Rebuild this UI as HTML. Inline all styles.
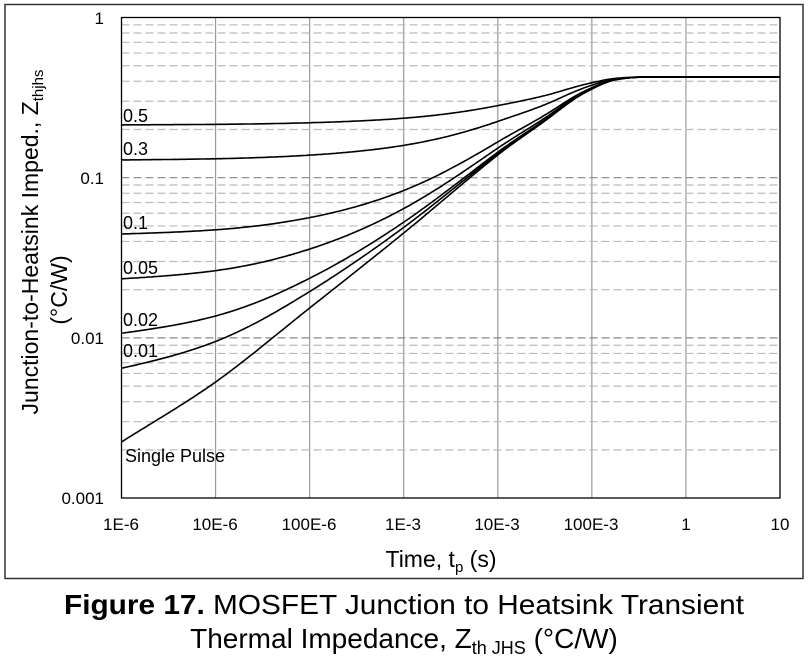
<!DOCTYPE html>
<html><head><meta charset="utf-8"><style>
body{margin:0;background:#fff;width:809px;height:668px;overflow:hidden}
svg{display:block}
text{font-family:"Liberation Sans",sans-serif;fill:#000}
</style></head><body>
<svg id="s" width="809" height="668" xmlns="http://www.w3.org/2000/svg">
<rect x="5" y="4.5" width="798" height="574" fill="none" stroke="#333" stroke-width="1.5"/>
<g id="grid"></g>
<rect x="121.5" y="17.5" width="658.5" height="480.5" fill="none" stroke="#000" stroke-width="1.3"/>
<g id="curves" fill="none" stroke="#000" stroke-width="1.6"></g>
<g font-size="17" text-anchor="end">
<text x="104" y="24">1</text>
<text x="104" y="184">0.1</text>
<text x="104" y="344">0.01</text>
<text x="104" y="504">0.001</text>
</g>
<g font-size="17" text-anchor="middle">
<text x="121" y="530">1E-6</text>
<text x="215" y="530">10E-6</text>
<text x="309" y="530">100E-6</text>
<text x="403" y="530">1E-3</text>
<text x="497" y="530">10E-3</text>
<text x="591" y="530">100E-3</text>
<text x="686" y="530">1</text>
<text x="780" y="530">10</text>
</g>
<text x="441" y="567" font-size="23" text-anchor="middle">Time, t<tspan font-size="15" dy="5">p</tspan><tspan dy="-5"> (s)</tspan></text>
<g transform="translate(38,242) rotate(-90)"><text x="0" y="0" font-size="23" text-anchor="middle">Junction-to-Heatsink Imped., Z<tspan font-size="15" dy="5">thjhs</tspan></text></g>
<g transform="translate(67,290) rotate(-90)"><text x="0" y="0" font-size="23" text-anchor="middle">(°C/W)</text></g>
<g font-size="18">
<text x="123" y="122">0.5</text>
<text x="123" y="155">0.3</text>
<text x="123" y="229">0.1</text>
<text x="123" y="274">0.05</text>
<text x="123" y="326">0.02</text>
<text x="123" y="357">0.01</text>
<text x="125" y="462">Single Pulse</text>
</g>
<text x="404" y="614" font-size="28" text-anchor="middle" textLength="680" lengthAdjust="spacingAndGlyphs"><tspan font-weight="bold">Figure 17.</tspan> MOSFET Junction to Heatsink Transient</text>
<text x="404" y="648" font-size="28" text-anchor="middle"><tspan>Thermal Impedance, Z</tspan><tspan font-size="18" dy="6">th JHS</tspan><tspan dy="-6"> (°C/W)</tspan></text>
</svg>
<script>
var NS="http://www.w3.org/2000/svg";
var X0=121.5,DX=94.07,Y0=17.5,DY=160.2;
function px(l){return X0+(l+6)*DX}
function py(lz){return Y0-lz*DY}
var g=document.getElementById('grid'),h='';
for(var k=1;k<7;k++){var x=px(-6+k);h+='<line x1="'+x+'" x2="'+x+'" y1="17.5" y2="498" stroke="#999" stroke-width="1.2"/>';}
for(var d=0;d<3;d++){for(var m=2;m<=10;m++){if(d==0&&m==10)continue;var y=py(-d-1+Math.log10(m));
h+='<line x1="121.5" x2="780" y1="'+y+'" y2="'+y+'" stroke="'+(m==10?'#888':'#bbb')+'" stroke-width="1.2" stroke-dasharray="8,4"/>';}}
g.innerHTML=h;
var pts=[[-6,442],[-5,382],[-4,308],[-3,233],[-2,155],[-1.5,121],[-1.2,100],[-1,89],[-0.8,81],[-0.6,77.8],[-0.4,77],[0,77],[1,77]];
pts=pts.map(function(p){return [p[0],-(p[1]-Y0)/DY]});
function zs(l){
 for(var i=0;i<pts.length-1;i++){if(l<=pts[i+1][0]){
  var p0=pts[Math.max(i-1,0)],p1=pts[i],p2=pts[i+1],p3=pts[Math.min(i+2,pts.length-1)];
  var t=(l-p1[0])/(p2[0]-p1[0]);
  var m1=(p2[1]-p0[1])/(p2[0]-p0[0]||1)*(p2[0]-p1[0]),m2=(p3[1]-p1[1])/(p3[0]-p1[0]||1)*(p2[0]-p1[0]);
  var t2=t*t,t3=t2*t;
  return (2*t3-3*t2+1)*p1[1]+(t3-2*t2+t)*m1+(-2*t3+3*t2)*p2[1]+(t3-t2)*m2;}}
 return pts[pts.length-1][1];}
var R=Math.pow(10,pts[pts.length-1][1]);
var c='';
[0,0.01,0.02,0.05,0.1,0.3,0.5].forEach(function(D){
 var d='';for(var l=-6;l<=1.0001;l+=0.02){var z=D*R+(1-D)*Math.pow(10,zs(l));
 d+=(d?'L':'M')+px(l).toFixed(1)+','+py(Math.log10(z)).toFixed(1);}
 c+='<path d="'+d+'"/>';});
document.getElementById('curves').innerHTML=c;
</script>
</body></html>
